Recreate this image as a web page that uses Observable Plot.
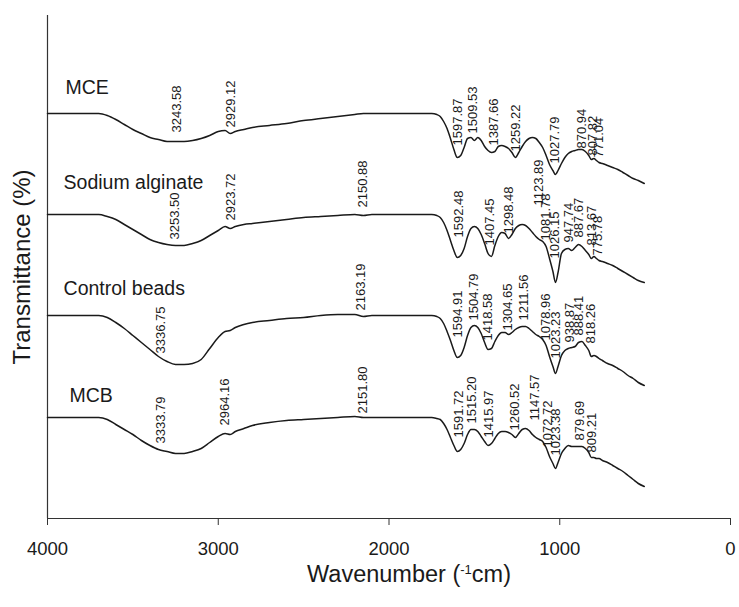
<!DOCTYPE html>
<html><head><meta charset="utf-8">
<script src="https://cdn.jsdelivr.net/npm/d3@7"></script>
<script src="https://cdn.jsdelivr.net/npm/@observablehq/plot@0.6"></script>
<style>body{margin:0;background:#fff}#chart svg{display:block}</style>
</head><body><div id="chart"></div>
<script>
// Wavenumber grid (cm^-1), shared by all spectra
const wavenumber = [4000,3800,3700,3650,3600,3550,3500,3450,3400,3350,
  3300,3250,3200,3150,3100,3050,3000,2960,2930,2900,
  2850,2800,2700,2600,2500,2400,2300,2200,2150,2100,
  2000,1900,1800,1750,1720,1700,1680,1660,1640,1620,
  1600,1580,1560,1540,1520,1500,1480,1460,1440,1420,
  1400,1380,1360,1340,1320,1300,1280,1260,1240,1220,
  1200,1180,1160,1140,1120,1100,1080,1060,1040,1025,
  1010,990,970,950,930,910,890,870,850,830,
  815,800,785,770,750,720,690,660,630,600,
  570,540,505];

// Offset transmittance (a.u.) of each stacked spectrum
const mce = [40.5,40.5,40.5,40.3,39.9,39.4,38.9,38.5,38.1,37.9,
  37.7,37.7,37.7,37.8,38.0,38.3,38.7,38.8,38.5,38.7,
  38.9,39.1,39.3,39.5,39.8,40.0,40.2,40.4,40.5,40.5,
  40.5,40.5,40.5,40.5,40.4,40.2,39.7,39.0,38.0,36.9,
  36.1,36.3,37.1,38.0,38.1,37.8,38.1,37.8,37.2,36.8,
  36.6,36.7,37.2,37.3,37.2,37.0,36.6,36.1,36.6,37.2,
  37.7,38.0,38.1,38.0,37.6,37.1,36.3,35.4,34.8,34.4,
  34.8,35.5,36.1,36.5,36.7,36.8,36.9,36.9,36.7,36.3,
  35.9,36.0,35.8,35.6,35.5,35.3,35.1,34.9,34.6,34.3,
  34.0,33.8,33.5];
const sodiumAlginate = [30.4,30.4,30.4,30.2,29.9,29.4,28.9,28.4,27.9,27.6,
  27.4,27.3,27.3,27.5,27.8,28.3,28.8,29.2,29.0,29.2,
  29.4,29.5,29.7,29.9,30.1,30.2,30.3,30.4,30.3,30.4,
  30.4,30.4,30.4,30.4,30.3,30.1,29.6,28.8,27.8,26.8,
  26.1,26.3,27.0,28.2,29.0,29.2,29.0,28.4,27.5,26.5,
  26.2,27.3,28.2,28.6,28.5,28.0,28.4,29.0,29.3,29.4,
  29.3,29.0,28.6,28.2,27.9,27.7,27.2,26.0,24.7,23.6,
  24.6,26.5,26.9,27.0,26.8,27.1,27.4,27.2,26.8,26.4,
  26.0,26.2,26.0,25.8,25.7,25.5,25.3,25.0,24.7,24.4,
  24.1,23.8,23.6];
const controlBeads = [20.3,20.3,20.3,20.1,19.6,19.0,18.3,17.6,16.9,16.2,
  15.7,15.4,15.4,15.5,15.9,17.0,18.1,18.7,18.8,19.1,
  19.4,19.6,19.8,20.0,20.1,20.3,20.4,20.4,20.2,20.3,
  20.3,20.3,20.3,20.3,20.2,20.0,19.5,18.7,17.8,16.8,
  16.1,16.3,17.1,18.3,19.1,19.3,19.1,18.5,17.6,16.9,
  17.0,17.7,18.3,18.6,18.6,18.4,18.6,18.9,19.1,19.2,
  19.2,19.0,18.7,18.4,18.2,17.9,17.3,16.2,15.2,14.5,
  15.2,16.3,16.8,17.0,17.1,17.2,17.6,17.7,17.3,16.8,
  16.2,16.3,16.2,16.0,15.8,15.5,15.3,15.0,14.7,14.3,
  14.0,13.6,13.3];
const mcb = [10.1,10.1,10.1,9.9,9.4,8.9,8.4,7.8,7.3,6.9,
  6.7,6.5,6.5,6.7,7.0,7.6,8.2,8.5,8.4,8.7,
  9.0,9.3,9.6,9.8,9.9,10.0,10.1,10.2,10.1,10.1,
  10.1,10.1,10.1,10.1,10.0,9.9,9.5,8.9,8.1,7.3,
  6.7,6.9,7.5,8.4,8.9,8.9,8.7,8.2,7.7,7.3,
  7.5,8.0,8.5,8.7,8.7,8.6,8.4,8.1,8.5,8.9,
  9.0,8.8,8.4,8.1,7.9,7.7,7.1,6.2,5.5,5.0,
  5.6,6.5,7.0,7.3,7.2,7.2,7.2,7.2,7.0,6.6,
  6.1,6.1,6.0,6.0,5.8,5.6,5.3,5.0,4.7,4.3,
  3.9,3.5,3.2];

const seriesNames = ["MCE", "Sodium alginate", "Control beads", "MCB"];
const nameWavenumber = [3895, 3906, 3906, 3871];
const nameLevel = [43.1, 33.6, 23.0, 12.3];

// Peak labels and the level at which each label starts
const mcePeaks = ["3243.58","2929.12","1597.87","1509.53","1387.66","1259.22","1027.79","870.94","807.82","771.04"];
const mcePeakLevel = [38.6,39.1,37.3,38.5,37.3,36.7,35.5,37.0,36.3,36.1];
const saPeaks = ["3253.50","2923.72","2150.88","1592.48","1407.45","1298.48","1123.89","1081.78","1026.15","947.74","887.67","813.67","775.78"];
const saPeakLevel = [27.9,29.8,31.1,28.1,27.3,28.5,31.3,27.8,26.0,27.6,28.1,27.3,26.3];
const cbPeaks = ["3336.75","2163.19","1594.91","1504.79","1418.58","1304.65","1211.56","1078.96","1023.23","938.87","888.41","818.26"];
const cbPeakLevel = [16.5,20.8,18.1,19.8,17.8,18.8,19.8,17.8,16.0,17.6,18.3,17.5];
const mcbPeaks = ["3333.79","2964.16","2151.80","1591.72","1515.20","1415.97","1260.52","1147.57","1072.72","1023.38","879.69","809.21"];
const mcbPeakLevel = [7.5,9.3,10.5,8.1,9.5,8.1,8.8,9.8,7.1,6.3,7.8,6.6];

const xTicks = [4000, 3000, 2000, 1000, 0];
const xDomain = [4000, 0];
const yDomain = [0, 50.3];

// Build tables
const seriesValues = [mce, sodiumAlginate, controlBeads, mcb];
const spectra = seriesValues.flatMap((vals, i) =>
  wavenumber.map((w, j) => ({series: seriesNames[i], w, t: vals[j]})));
const peaks = [[mcePeaks, mcePeakLevel], [saPeaks, saPeakLevel], [cbPeaks, cbPeakLevel], [mcbPeaks, mcbPeakLevel]]
  .flatMap(([texts, levels]) => texts.map((s, k) => ({text: s, w: +s, t: levels[k]})));
const names = seriesNames.map((n, i) => ({text: n, w: nameWavenumber[i], t: nameLevel[i]}));

const FONT = "Liberation Sans, Arial, Helvetica, sans-serif";
const ink = "#1a1a1a";

const chart = Plot.plot({
  width: 739,
  height: 607,
  marginLeft: 47,
  marginRight: 9,
  marginTop: 15,
  marginBottom: 89,
  style: {fontFamily: FONT, background: "#fff", color: ink},
  x: {domain: xDomain},
  y: {domain: yDomain, axis: null},
  marks: [
    Plot.ruleX([xDomain[0]], {y1: yDomain[0], y2: yDomain[1], stroke: "#333", strokeWidth: 1.2}),
    Plot.ruleY([yDomain[0]], {x1: xDomain[0], x2: xDomain[1], stroke: "#333", strokeWidth: 1.2}),
    Plot.axisX({ticks: xTicks, tickSize: 7, tickPadding: 16, tickFormat: d => String(d), fontSize: 18.5, label: null, stroke: "#333"}),
    Plot.lineY(spectra, {x: "w", y: "t", z: "series", stroke: ink, strokeWidth: 1.5, curve: "monotone-x"}),
    Plot.text(peaks, {x: "w", y: "t", text: "text", rotate: -90, textAnchor: "start", fontSize: 13, fill: ink}),
    Plot.text(names, {x: "w", y: "t", text: "text", textAnchor: "start", fontSize: 19.5, fill: ink}),
    Plot.text(["Transmittance (%)"], {frameAnchor: "left", dx: -25, rotate: -90, textAnchor: "middle", fontSize: 24, fill: ink}),
    Plot.text(["Wavenumber (-1cm)"], {frameAnchor: "bottom", dy: 63, dx: 20, textAnchor: "middle", fontSize: 23.5, fill: ink})
  ]
});

// superscript in the x-axis title
d3.select(chart).selectAll("text").filter(function() { return this.textContent === "Wavenumber (-1cm)"; })
  .each(function() {
    const t = d3.select(this);
    t.text(null);
    t.append("tspan").text("Wavenumber (");
    t.append("tspan").attr("font-size", 13).attr("dy", -8).text("-1");
    t.append("tspan").attr("dy", 8).text("cm)");
  });

document.getElementById("chart").appendChild(chart);
</script>
</body></html>
